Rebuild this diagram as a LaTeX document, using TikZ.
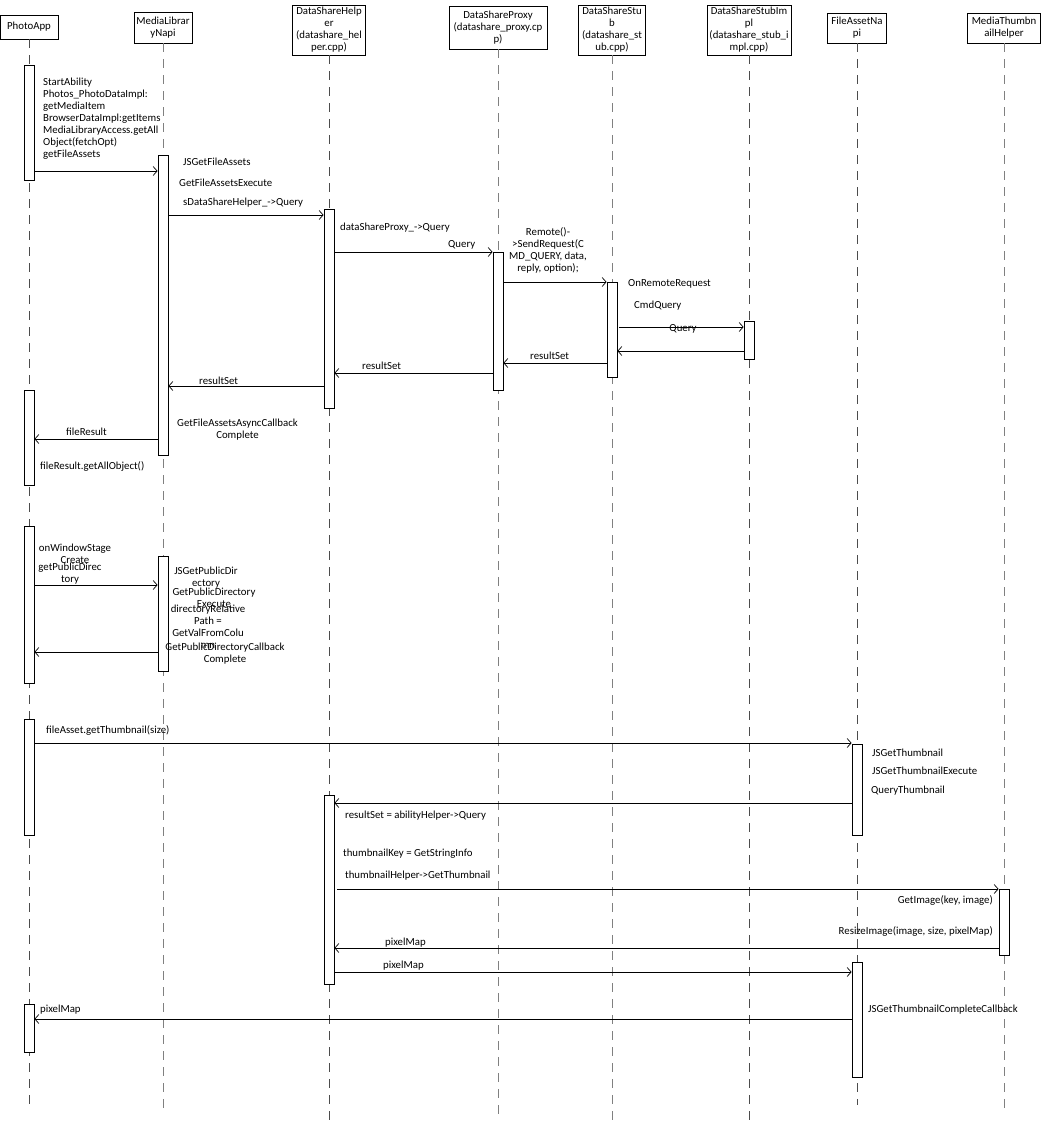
\documentclass[tikz,border=0pt]{standalone}
\usepackage{fontspec}
\setmainfont{Carlito}
\usetikzlibrary{arrows.meta}
\newcommand\lblfont{\fontsize{10.8}{12}\selectfont}
\begin{document}
\begin{tikzpicture}[x=1pt,y=-1pt,
  head/.style={draw, line width=0.8pt, inner sep=0pt, align=center, font=\lblfont},
  life/.style={line width=0.9pt, dash pattern=on 9pt off 7pt, draw=black!70},
  act/.style={draw, fill=white, line width=0.8pt, minimum width=10pt, inner sep=0pt, anchor=north},
  msg/.style={line width=0.8pt, -{Straight Barb[length=4pt,width=9pt,line width=0.7pt]}},
  lbl/.style={inner sep=0pt, font=\lblfont, anchor=base west},
  clbl/.style={inner sep=0pt, font=\lblfont, anchor=base, align=center},
  llbl/.style={inner sep=0pt, font=\lblfont, anchor=base west, align=left}]
\useasboundingbox (0,0) rectangle (1041,1124);

% heads
\node[head, minimum width=58pt, minimum height=24pt] (pa) at (29,27) {PhotoApp};
\node[head, minimum width=58pt, minimum height=31pt] (ml) at (163,27.5) {MediaLibrar\\yNapi};
\node[head, minimum width=73pt, minimum height=50pt] (dsh) at (329,30) {DataShareHelp\\er\\(datashare\_hel\\per.cpp)};
\node[head, minimum width=98pt, minimum height=43pt] (dsp) at (498,27.5) {DataShareProxy\\(datashare\_proxy.cp\\p)};
\node[head, minimum width=67pt, minimum height=50pt] (stub) at (612,30) {DataShareStu\\b\\(datashare\_st\\ub.cpp)};
\node[head, minimum width=84pt, minimum height=50pt] (impl) at (749,30) {DataShareStubIm\\pl\\(datashare\_stub\_i\\mpl.cpp)};
\node[head, minimum width=59pt, minimum height=30pt] (fan) at (857,28) {FileAssetNa\\pi};
\node[head, minimum width=73pt, minimum height=30pt] (mth) at (1004,28) {MediaThumbn\\ailHelper};

% lifelines
\draw[life] (pa.south) -- (pa.south |- 0,1107);
\draw[life, draw=black!50] (ml.south) -- (ml.south |- 0,1109);
\draw[life] (dsh.south) -- (dsh.south |- 0,1124);
\draw[life, draw=black!50] (dsp.south) -- (dsp.south |- 0,1117);
\draw[life, draw=black!50] (stub.south) -- (stub.south |- 0,1124);
\draw[life] (impl.south) -- (impl.south |- 0,1124);
\draw[life] (fan.south) -- (fan.south |- 0,1105);
\draw[life, draw=black!50] (mth.south) -- (mth.south |- 0,1111);

% activations
\node[act, minimum height=115pt] (pa1) at (29,65) {};
\node[act, minimum height=300pt] (ml1) at (163,155) {};
\node[act, minimum height=199pt] (dsh1) at (329,209) {};
\node[act, minimum height=138pt] (dsp1) at (498,251.7) {};
\node[act, minimum height=95pt] (stub1) at (612,282) {};
\node[act, minimum height=38pt] (impl1) at (749,321) {};
\node[act, minimum height=95pt] (pa2) at (29,390) {};
\node[act, minimum height=157pt] (pa3) at (29,526) {};
\node[act, minimum height=115pt] (ml2) at (163,556) {};
\node[act, minimum height=116pt] (pa4) at (29,719) {};
\node[act, minimum height=91pt] (fan1) at (857,744) {};
\node[act, minimum height=189pt] (dsh2) at (329,795) {};
\node[act, minimum height=66pt] (mth1) at (1004,889) {};
\node[act, minimum height=115pt] (fan2) at (857,962) {};
\node[act, minimum height=48pt] (pa5) at (29,1004) {};

% messages
\draw[msg] (pa1.east |- 0,171) -- (ml1.west |- 0,171);
\draw[msg] (ml1.east |- 0,215) -- (dsh1.west |- 0,215);
\draw[msg] (dsh1.east |- 0,252) -- (dsp1.west |- 0,252);
\draw[msg] (dsp1.east |- 0,282) -- (stub1.west |- 0,282);
\draw[msg] ([xshift=2pt]stub1.east |- 0,327) -- (impl1.west |- 0,327);
\draw[msg] (impl1.west |- 0,351) -- (stub1.east |- 0,351);
\draw[msg] (stub1.west |- 0,363) -- (dsp1.east |- 0,363);
\draw[msg] (dsp1.west |- 0,373) -- (dsh1.east |- 0,373);
\draw[msg] (dsh1.west |- 0,386) -- (ml1.east |- 0,386);
\draw[msg] (ml1.west |- 0,439) -- (pa2.east |- 0,439);
\draw[msg] (pa3.east |- 0,585) -- (ml2.west |- 0,585);
\draw[msg] (ml2.west |- 0,652) -- (pa3.east |- 0,652);
\draw[msg] (pa4.east |- 0,743) -- (fan1.west |- 0,743);
\draw[msg] (fan1.west |- 0,803) -- (dsh2.east |- 0,803);
\draw[msg] ([xshift=3pt]dsh2.east |- 0,889) -- (mth1.west |- 0,889);
\draw[msg] (mth1.west |- 0,948) -- (dsh2.east |- 0,948);
\draw[msg] (dsh2.east |- 0,972) -- (fan2.west |- 0,972);
\draw[msg] (fan2.west |- 0,1019) -- (pa5.east |- 0,1019);

% labels (multi-line nodes: base = last line's baseline)
\node[llbl] (t1) at (43,157.5) {StartAbility\\Photos\_PhotoDataImpl:\\getMediaItem\\BrowserDataImpl:getItems\\MediaLibraryAccess.getAll\\Object(fetchOpt)\\getFileAssets};
\node[lbl] (t2) at (183,165.5) {JSGetFileAssets};
\node[lbl] (t3) at (179,186.5) {GetFileAssetsExecute};
\node[lbl] (t4) at (183,205.5) {sDataShareHelper\_->Query};
\node[lbl] (t5) at (340,230.5) {dataShareProxy\_->Query};
\node[lbl] (t6) at (448,247.5) {Query};
\node[clbl] (t7) at (548,271.5) {Remote()-\\>SendRequest(C\\MD\_QUERY, data,\\reply, option);};
\node[lbl] (t8) at (628,286.5) {OnRemoteRequest};
\node[lbl] (t9) at (634,308.5) {CmdQuery};
\node[clbl] (t10) at (683,331) {Query};
\node[lbl] (t11) at (530,359.5) {resultSet};
\node[lbl] (t12) at (362,369.5) {resultSet};
\node[lbl] (t13) at (199,384.5) {resultSet};
\node[lbl] (t14) at (66,435.5) {fileResult};
\node[clbl] (t15) at (237.5,438) {GetFileAssetsAsyncCallback\\Complete};
\node[lbl] (t16) at (40,469.5) {fileResult.getAllObject()};
\node[clbl] (t17) at (75,563.5) {onWindowStage\\Create};
\node[clbl] (t18) at (70,582.5) {getPublicDirec\\tory};
\node[clbl] (t19) at (206,586.5) {JSGetPublicDir\\ectory};
\node[clbl] (t20) at (214,607.5) {GetPublicDirectory\\Execute};
\node[clbl] (t21) at (208,648.5) {directoryRelative\\Path =\\GetValFromColu\\mn};
\node[clbl] (t22) at (225,662) {GetPublicDirectoryCallback\\Complete};
\node[lbl] (t23) at (46,733.5) {fileAsset.getThumbnail(size)};
\node[lbl] (t24) at (872,756) {JSGetThumbnail};
\node[lbl] (t25) at (872,774) {JSGetThumbnailExecute};
\node[lbl] (t26) at (871,793) {QueryThumbnail};
\node[lbl] (t27) at (345,818.5) {resultSet = abilityHelper->Query};
\node[lbl] (t28) at (343,856.5) {thumbnailKey = GetStringInfo};
\node[lbl] (t29) at (345,878.5) {thumbnailHelper->GetThumbnail};
\node[lbl, anchor=base east] (t30) at (993,903.5) {GetImage(key, image)};
\node[lbl, anchor=base east] (t31) at (993,934) {ResizeImage(image, size, pixelMap)};
\node[lbl] (t32) at (385,945.5) {pixelMap};
\node[lbl] (t33) at (383,968.5) {pixelMap};
\node[lbl] (t34) at (40,1012.5) {pixelMap};
\node[lbl] (t35) at (868,1012.5) {JSGetThumbnailCompleteCallback};
\end{tikzpicture}
\end{document}
